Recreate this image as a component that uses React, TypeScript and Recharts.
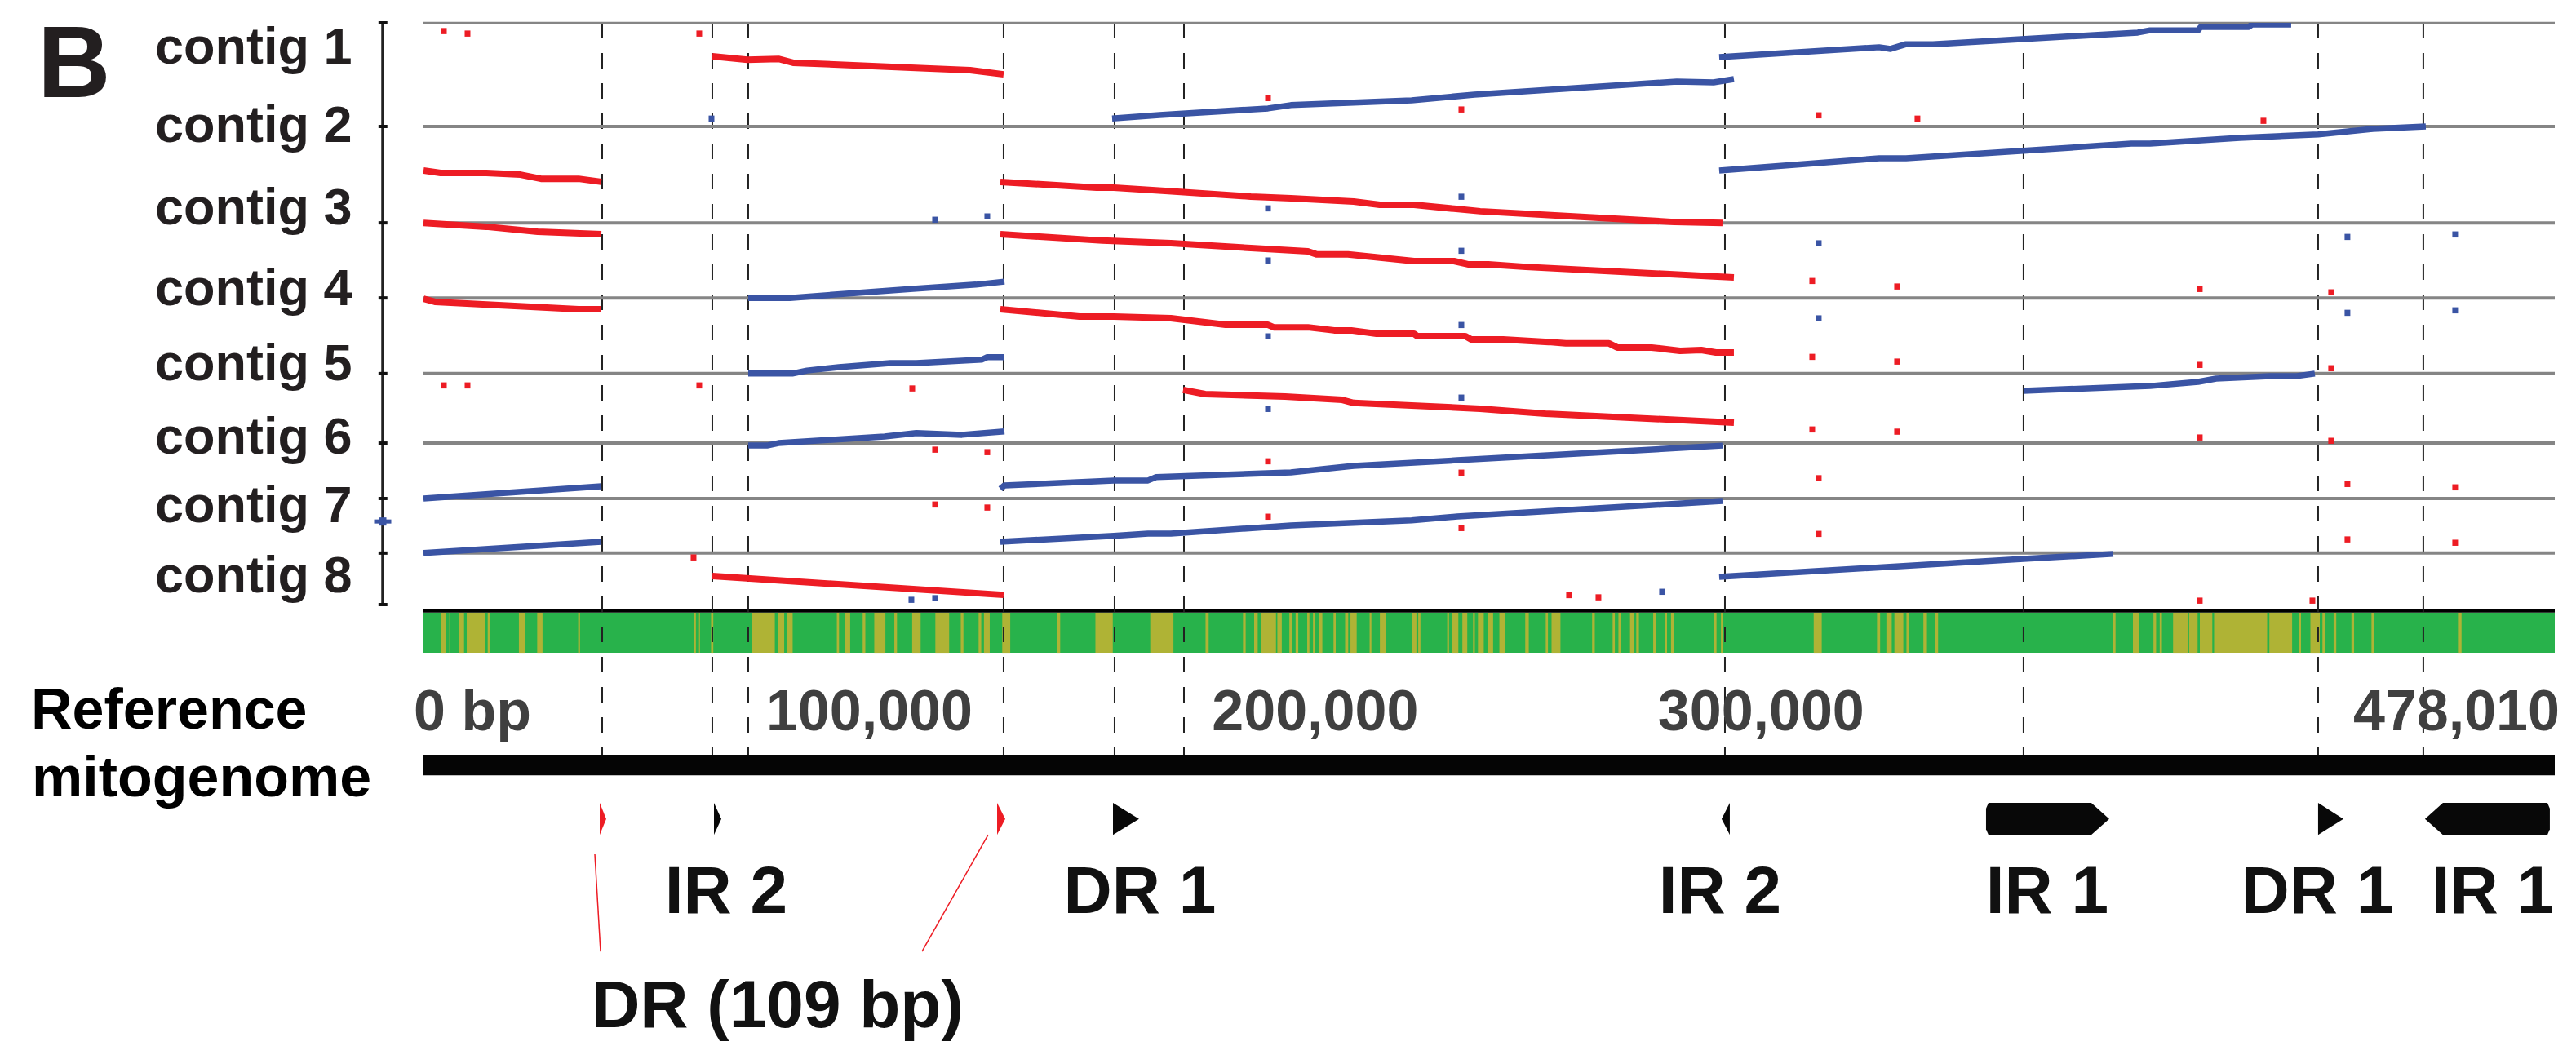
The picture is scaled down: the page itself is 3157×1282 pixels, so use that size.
import React from 'react';
import { ComposedChart, Line, Scatter, XAxis, YAxis, ReferenceLine, ReferenceArea, ReferenceDot } from 'recharts';

const FONT = '"Liberation Sans", Arial, Helvetica, sans-serif';
const RED = '#ed1c24';
const BLUE = '#3a54a4';
const GREEN = '#28b24b';
const OLIVE = '#afb335';
const INK = '#111';

// reference genome (x, bp)
const GENOME_LEN = 478010;
const X_TICKS = [0, 100000, 200000, 300000, 478010];
const X_TICK_LABELS = ['0 bp', '100,000', '200,000', '300,000', '478,010'];

// stacked contigs (y, kb from bottom of contig 8)
const CONTIGS = ['contig 1', 'contig 2', 'contig 3', 'contig 4', 'contig 5', 'contig 6', 'contig 7', 'contig 8'];
const CONTIG_BOUNDS = [2100, 1726, 1378, 1107, 834, 583, 383, 186, 0];

// repeat boundaries (dashed)
const BREAKPOINTS = [40080, 64780, 72830, 130110, 155000, 170560, 291890, 358860, 424930, 448530];

type Pt = [number, number];

// reverse-strand alignments
const RED_SEGMENTS: Pt[][] = [
  [[64780, 1979], [72650, 1967], [79600, 1970], [82900, 1956], [113640, 1935], [122610, 1929], [130110, 1914]],
  [[0, 1567], [3840, 1558], [14090, 1558], [21780, 1552], [26350, 1537], [34770, 1537], [39890, 1526]],
  [[129380, 1526], [150980, 1505], [154820, 1505], [166350, 1493], [185560, 1473], [194530, 1467], [208620, 1455], [214480, 1443], [222160, 1443], [231130, 1429], [236990, 1420], [280540, 1381], [291340, 1378]],
  [[0, 1378], [14090, 1364], [25620, 1346], [39890, 1337]],
  [[129380, 1337], [152260, 1314], [167630, 1305], [185560, 1287], [198370, 1275], [200390, 1264], [207340, 1264], [222160, 1240], [231130, 1240], [234420, 1228], [238820, 1228], [247230, 1219], [286580, 1187], [293900, 1181]],
  [[0, 1104], [2560, 1093], [34770, 1066], [39890, 1066]],
  [[129380, 1066], [147130, 1040], [154820, 1040], [167630, 1034], [179890, 1010], [189410, 1010], [190690, 1001], [198370, 1001], [204230, 990], [208070, 990], [213740, 978], [222160, 978], [222890, 969], [233690, 969], [234970, 957], [242110, 957], [252360, 948], [256200, 943], [265900, 943], [267730, 928], [275420, 928], [281820, 916], [286580, 919], [289870, 910], [293900, 910]],
  [[170370, 775], [175310, 760], [193250, 751], [206060, 739], [208620, 728], [221610, 719], [236990, 707], [251630, 689], [293900, 657]],
  [[64780, 103], [130110, 35]],
];

// forward-strand alignments
const BLUE_SEGMENTS: Pt[][] = [
  [[154450, 1755], [165070, 1767], [189410, 1791], [194530, 1803], [221610, 1820], [235700, 1841], [281090, 1888], [289320, 1885], [293900, 1897]],
  [[290600, 1976], [314210, 2000], [326470, 2012], [329030, 2006], [332510, 2023], [338550, 2023], [384480, 2065], [387230, 2073], [398030, 2073], [398570, 2085], [409370, 2085], [410100, 2094], [418890, 2094]],
  [[290600, 1567], [326470, 1611], [332510, 1611], [358860, 1638], [383020, 1664], [387230, 1664], [407360, 1685], [424930, 1697], [437190, 1717], [449080, 1726]],
  [[72830, 1107], [82170, 1107], [109800, 1140], [123890, 1155], [130300, 1166]],
  [[72830, 834], [82720, 834], [86010, 845], [93150, 857], [104680, 872], [110530, 872], [125170, 884], [126450, 893], [130300, 893]],
  [[72830, 574], [77040, 574], [79610, 583], [103400, 607], [110530, 619], [120780, 613], [130300, 625]],
  [[358860, 772], [387230, 789], [398030, 804], [402050, 816], [414130, 825], [420170, 825], [424190, 834]],
  [[0, 383], [39890, 427]],
  [[129380, 418], [130300, 430], [154820, 448], [162500, 448], [164330, 460], [194530, 477], [208620, 501], [231860, 521], [291340, 574]],
  [[0, 186], [39890, 227]],
  [[129380, 227], [154820, 248], [162500, 256], [167630, 256], [194530, 286], [221610, 304], [231860, 318], [291340, 374]],
  [[290600, 100], [358860, 165], [378990, 183]],
];

const RED_DOTS: Pt[] = [
  [4575, 2071], [9880, 2062], [61850, 2062], [4575, 792], [9880, 792], [61850, 792], [60570, 171],
  [189410, 1829], [232780, 1788], [109620, 781], [114740, 560], [126450, 551], [189410, 518], [232780, 477],
  [114740, 362], [126450, 351], [189410, 318], [232780, 277], [312930, 1767], [335070, 1755], [412670, 1747],
  [311470, 1169], [330500, 1149], [398390, 1140], [427850, 1128], [311470, 895], [330500, 878], [398390, 866], [427850, 854],
  [311470, 633], [330500, 625], [398390, 604], [427850, 592], [312930, 457], [431510, 436], [455670, 424],
  [312930, 256], [431510, 236], [455670, 224], [256930, 35], [263520, 27], [398390, 15], [423650, 15],
];

const BLUE_DOTS: Pt[] = [
  [64600, 1755], [114740, 1390], [126450, 1402], [189410, 1431], [232780, 1473], [189410, 1243], [232780, 1278],
  [189410, 969], [232780, 1010], [189410, 707], [232780, 748], [312930, 1305], [431510, 1328], [455670, 1337],
  [312930, 1034], [431510, 1054], [455670, 1063], [109430, 18], [114740, 24], [277790, 47],
];

// lone hit drawn on the contig axis
const AXIS_HIT: Pt = [-9150, 300];

// low-identity stretches in the coverage track
const OLIVE_STRIPES: Pt[] = [
  [3900, 5050], [5800, 6000], [7900, 9100], [9700, 13900], [14400, 15000], [21400, 22800], [25500, 26700], [34700, 35100],
  [60700, 61100], [61800, 62000], [64500, 65000], [73600, 78800], [79500, 80900], [81500, 82800], [92700, 93200], [94500, 95700],
  [98500, 99100], [101100, 103600], [105600, 106200], [109600, 111500], [114800, 117900], [120500, 121100], [124500, 125100],
  [125700, 127000], [129800, 131600], [142100, 142800], [150700, 154600], [163000, 168200], [175400, 176100], [183800, 184400],
  [186300, 187100], [187800, 191200], [191500, 192500], [194200, 194900], [195600, 196200], [198200, 198700], [199500, 200000],
  [200800, 201600], [204100, 204600], [206700, 207400], [207900, 209300], [212200, 212600], [214500, 215800], [221700, 222700],
  [223100, 223600], [229600, 230000], [230700, 232100], [233000, 234100], [235400, 235800], [236500, 237800], [238800, 239900],
  [241300, 242500], [247100, 247900], [251700, 252200], [253000, 255000], [262100, 262700], [266700, 267200], [268000, 268600],
  [270600, 271400], [272000, 272600], [275800, 276400], [278400, 278900], [279800, 280400], [289500, 290000], [291000, 291400],
  [311800, 313600], [326000, 326700], [328100, 329300], [329900, 331900], [332600, 333100], [336400, 337200], [339000, 339700],
  [379000, 379500], [383400, 384700], [388000, 388600], [389400, 389900], [392400, 395700], [396000, 397900], [398400, 401200],
  [401600, 413500], [414000, 419100], [420700, 421100], [423200, 425300], [425900, 426500], [428400, 429000], [432400, 433000],
  [436900, 437400], [456300, 457100],
];

type Feature = { start: number; end: number; dir: 1 | -1; kind: 'tri' | 'block'; dr109: boolean };
const FEATURES: Feature[] = [
  { start: 39530, end: 40990, dir: 1, kind: 'tri', dr109: true },
  { start: 65150, end: 66800, dir: 1, kind: 'tri', dr109: false },
  { start: 128650, end: 130480, dir: 1, kind: 'tri', dr109: true },
  { start: 154640, end: 160490, dir: 1, kind: 'tri', dr109: false },
  { start: 291150, end: 292980, dir: -1, kind: 'tri', dr109: false },
  { start: 350450, end: 378080, dir: 1, kind: 'block', dr109: false },
  { start: 424930, end: 430600, dir: 1, kind: 'tri', dr109: false },
  { start: 448900, end: 476900, dir: -1, kind: 'block', dr109: false },
];

const FEATURE_LABELS: { text: string; at: number }[] = [
  { text: 'IR 2', at: 67900 },
  { text: 'DR 1', at: 160670 },
  { text: 'IR 2', at: 290790 },
  { text: 'IR 1', at: 364170 },
  { text: 'DR 1', at: 424740 },
  { text: 'IR 1', at: 464090 },
];
const DR_LABEL = { text: 'DR (109 bp)', at: 79420 };
const DR_LINKS: Pt[][] = [
  [[38430, -901], [39710, -1252]],
  [[126640, -831], [111810, -1252]],
];

// vertical layout of the lower tracks, in y-axis units
const Y_DOMAIN: [number, number] = [-1505, 2100];
const RULE = [-29, -15];
const TRACK = [-174, -29];
const BAR = [-616, -542];
const MARK = [-831, -716];
const DASH_END = -622;
const LABEL_Y = -1113;
const DR_LABEL_Y = -1526;
const AXIS_X = -9150;
const AXIS_TICK = [-10100, -8100];
const TICK_BASELINE = 895;

const toXY = (p: Pt) => ({ x: p[0], y: p[1] });

const square = (color: string) => (p: any) => (
  <rect x={p.cx - 3.5} y={p.cy - 3.5} width={7} height={7.5} fill={color} />
);

const featureShape = (f: Feature) => (p: any) => {
  const { x, y, width: w, height: h } = p;
  const m = y + h / 2;
  let pts: number[][];
  if (f.kind === 'tri') {
    pts = f.dir > 0 ? [[x, y], [x + w, m], [x, y + h]] : [[x + w, y], [x, m], [x + w, y + h]];
  } else {
    const tip = 22;
    pts = f.dir > 0
      ? [[x + 3, y], [x + w - tip, y], [x + w, m], [x + w - tip, y + h], [x + 3, y + h], [x, y + h - 7], [x, y + 7]]
      : [[x + tip, y], [x + w - 3, y], [x + w, y + 7], [x + w, y + h - 7], [x + w - 3, y + h], [x + tip, y + h], [x, m]];
  }
  return <polygon points={pts.map((q) => q.join(',')).join(' ')} fill={f.dr109 ? RED : '#080808'} />;
};

const textAt = (text: string, size: number) => (p: any) => (
  <text x={p.cx} y={p.cy} textAnchor="middle" fontFamily={FONT} fontWeight={700} fontSize={size} fill={INK}>{text}</text>
);

const crossShape = (p: any) => (
  <g fill={BLUE}>
    <rect x={p.cx - 10.5} y={p.cy - 2.5} width={21} height={5} />
    <rect x={p.cx - 4.5} y={p.cy - 5} width={9} height={10} />
  </g>
);

const renderTick = (p: any) => {
  const i = X_TICKS.indexOf(p.payload.value);
  const last = X_TICKS.length - 1;
  const anchor = i === 0 ? 'start' : i === last ? 'end' : 'middle';
  const dx = i === 0 ? -12 : i === last ? 6 : 0;
  return (
    <text x={p.x + dx} y={TICK_BASELINE} textAnchor={anchor} fontFamily={FONT} fontWeight={700} fontSize={70} fill="#404040">
      {X_TICK_LABELS[i]}
    </text>
  );
};

const CONTIG_BASELINES = [78, 174, 275, 374, 466, 556, 640, 726];

export default function App() {
  return (
    <div style={{ position: 'absolute', left: 0, top: 0, width: 3157, height: 1282, background: '#fff' }}>
      <ComposedChart width={3157} height={1282} margin={{ top: 28, right: 26, bottom: 0, left: 519 }}>
        <XAxis type="number" dataKey="x" domain={[0, GENOME_LEN]} ticks={X_TICKS} interval={0} allowDataOverflow
          axisLine={false} tickLine={false} tick={renderTick} height={30} />
        <YAxis type="number" dataKey="y" domain={Y_DOMAIN} allowDataOverflow hide width={0} />

        {/* coverage track */}
        <ReferenceArea x1={0} x2={GENOME_LEN} y1={TRACK[0]} y2={TRACK[1]} fill={GREEN} fillOpacity={1} stroke="none" zIndex={100} />
        {OLIVE_STRIPES.map((s, i) => (
          <ReferenceArea key={'st' + i} x1={s[0]} x2={s[1]} y1={TRACK[0]} y2={TRACK[1]} fill={OLIVE} fillOpacity={1} stroke="none" zIndex={100} />
        ))}
        <ReferenceArea x1={0} x2={GENOME_LEN} y1={RULE[0]} y2={RULE[1]} fill="#000" fillOpacity={1} stroke="none" zIndex={100} />

        {BREAKPOINTS.map((b) => (
          <ReferenceLine key={'bp' + b} segment={[{ x: b, y: Y_DOMAIN[1] }, { x: b, y: DASH_END }]} stroke="#222"
            strokeWidth={2} strokeDasharray="19 18" ifOverflow="visible" zIndex={150} />
        ))}

        <ReferenceArea x1={0} x2={GENOME_LEN} y1={BAR[0]} y2={BAR[1]} fill="#050505" fillOpacity={1} stroke="none" zIndex={200} />

        {CONTIG_BOUNDS.slice(0, -1).map((b, i) => (
          <ReferenceLine key={'g' + b} y={b} stroke="#858585" strokeWidth={i === 0 ? 2.5 : 4} zIndex={250} />
        ))}

        {/* contig axis */}
        <ReferenceLine segment={[{ x: AXIS_X, y: 0 }, { x: AXIS_X, y: CONTIG_BOUNDS[0] }]} stroke="#222" strokeWidth={3.5}
          ifOverflow="visible" zIndex={250} />
        {CONTIG_BOUNDS.map((b) => (
          <ReferenceLine key={'t' + b} segment={[{ x: AXIS_TICK[0], y: b }, { x: AXIS_TICK[1], y: b }]} stroke="#111"
            strokeWidth={4} ifOverflow="visible" zIndex={250} />
        ))}

        {RED_SEGMENTS.map((s, i) => (
          <Line key={'r' + i} data={s.map(toXY)} dataKey="y" type="linear" stroke={RED} strokeWidth={8} dot={false}
            activeDot={false} isAnimationActive={false} strokeLinejoin="round" zIndex={400} />
        ))}
        {BLUE_SEGMENTS.map((s, i) => (
          <Line key={'b' + i} data={s.map(toXY)} dataKey="y" type="linear" stroke={BLUE} strokeWidth={7.5} dot={false}
            activeDot={false} isAnimationActive={false} strokeLinejoin="round" zIndex={400} />
        ))}

        <Scatter data={RED_DOTS.map(toXY)} dataKey="y" fill={RED} shape={square(RED)} isAnimationActive={false} zIndex={600} />
        <Scatter data={BLUE_DOTS.map(toXY)} dataKey="y" fill={BLUE} shape={square(BLUE)} isAnimationActive={false} zIndex={600} />
        <ReferenceDot x={AXIS_HIT[0]} y={AXIS_HIT[1]} ifOverflow="visible" shape={crossShape} zIndex={600} />

        {/* annotated repeats */}
        {FEATURES.map((f, i) => (
          <ReferenceArea key={'f' + i} x1={f.start} x2={f.end} y1={MARK[0]} y2={MARK[1]} ifOverflow="visible"
            shape={featureShape(f)} zIndex={700} />
        ))}
        {DR_LINKS.map((l, i) => (
          <ReferenceLine key={'l' + i} segment={[{ x: l[0][0], y: l[0][1] }, { x: l[1][0], y: l[1][1] }]} stroke={RED}
            strokeWidth={1.5} ifOverflow="visible" zIndex={700} />
        ))}
        {FEATURE_LABELS.map((l, i) => (
          <ReferenceDot key={'fl' + i} x={l.at} y={LABEL_Y} ifOverflow="visible" shape={textAt(l.text, 82)} zIndex={800} />
        ))}
        <ReferenceDot x={DR_LABEL.at} y={DR_LABEL_Y} ifOverflow="visible" shape={textAt(DR_LABEL.text, 82)} zIndex={800} />
      </ComposedChart>

      <svg width={3157} height={1282} style={{ position: 'absolute', left: 0, top: 0, pointerEvents: 'none' }}
        fontFamily={FONT} fontWeight={700}>
        <text x={46} y={119} fontSize={124} fill="#231f20">B</text>
        {CONTIGS.map((c, i) => (
          <text key={c} x={190} y={CONTIG_BASELINES[i]} fontSize={63} fill="#231f20">{c}</text>
        ))}
        <text x={38} y={893} fontSize={70} fill="#000">Reference</text>
        <text x={39} y={976} fontSize={70} fill="#000">mitogenome</text>
      </svg>
    </div>
  );
}
